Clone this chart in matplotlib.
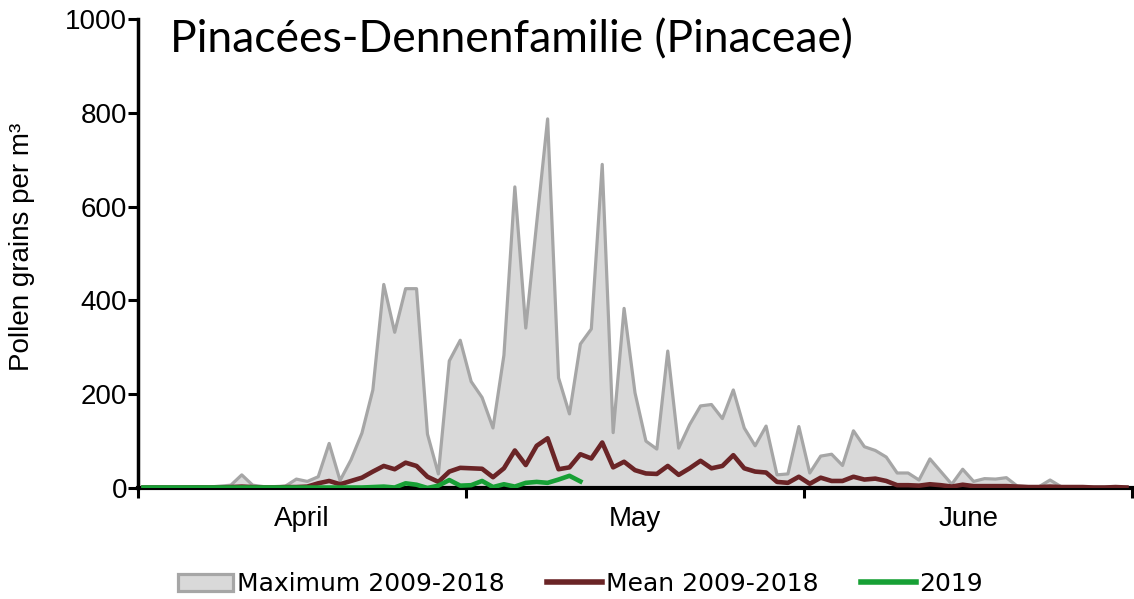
import numpy as np
import matplotlib
matplotlib.use("Agg")
import matplotlib.pyplot as plt
from matplotlib.patches import Patch
from matplotlib.lines import Line2D

# daily values, 1 April .. 30 June
max_2009_2018 = [1, 2, 1, 1, 2, 3, 2, 4, 6, 28,
                 6, 3, 3, 4, 19, 14, 24, 95, 16, 60,
                 117, 209, 434, 332, 425, 425, 115, 30, 271, 315,
                 227, 193, 128, 283, 642, 341, 565, 787, 235, 158,
                 307, 339, 690, 118, 383, 203, 100, 83, 292, 85,
                 135, 175, 178, 148, 209, 128, 90, 132, 28, 30,
                 131, 32, 68, 72, 48, 122, 88, 80, 66, 32,
                 32, 17, 62, 35, 8, 40, 14, 20, 19, 22,
                 4, 3, 3, 17, 3, 2, 2, 2, 2, 2, 2]
mean_2009_2018 = [1, 1, 1, 1, 1, 1, 1, 1, 2, 3,
                  2, 1, 1, 2, 2, 3, 10, 15, 8, 15,
                  22, 35, 47, 40, 54, 47, 24, 13, 35, 43,
                  42, 41, 23, 42, 80, 49, 90, 106, 40, 44,
                  72, 63, 97, 44, 56, 38, 31, 30, 47, 28,
                  42, 58, 42, 47, 70, 42, 35, 33, 13, 11,
                  24, 9, 22, 15, 15, 24, 18, 20, 15, 6,
                  6, 5, 8, 6, 3, 7, 4, 4, 4, 4,
                  3, 2, 2, 3, 2, 2, 2, 1, 1, 2, 1]
year_2019 = [1, 1, 1, 1, 1, 1, 1, 1, 1, 1,
             1, 1, 1, 1, 1, 1, 1, 1, 1, 1,
             1, 2, 3, 1, 10, 7, 0, 5, 17, 5,
             6, 15, 2, 8, 3, 11, 13, 11, 18, 26, 14]

months = ["April", "May", "June"]
month_days = [30, 31, 30]

fill_col = "#d9d9d9"
edge_col = "#a6a6a6"
mean_col = "#6a2426"
green_col = "#17a035"

plt.rcParams['font.family'] = ['Liberation Sans', 'DejaVu Sans']

fig = plt.figure(figsize=(11.34, 5.99), dpi=100)
ax = fig.add_axes([138/1134, 111/599, 994/1134, 469/599])

x_max = np.arange(len(max_2009_2018)) + 0.5
x_mean = np.arange(len(mean_2009_2018)) + 0.5
x_2019 = np.arange(len(year_2019)) + 0.5

ax.fill_between(x_max, 0, max_2009_2018, color=fill_col, lw=0, zorder=1)
ax.plot(x_max, max_2009_2018, color=edge_col, lw=2.3, zorder=2)
ax.plot(x_mean, mean_2009_2018, color=mean_col, lw=3.3, zorder=3)
ax.plot(x_2019, year_2019, color=green_col, lw=3.3, zorder=4)

bounds = np.concatenate([[0], np.cumsum(month_days)])
centers = (bounds[:-1] + bounds[1:]) / 2
ax.set_xlim(0, bounds[-1])
ax.set_ylim(0, 1000)
ax.set_xticks(bounds)
ax.set_xticklabels([])
ax.set_xticks(centers, minor=True)
ax.set_xticklabels(months, minor=True, fontsize=20)
ax.tick_params(axis='x', which='minor', length=0, pad=13)
ax.tick_params(axis='x', which='major', length=7, width=2.2, direction='out')
ax.set_yticks(np.arange(0, 1001, 200))
ax.tick_params(axis='y', length=7, width=2.2, labelsize=20, pad=1)

for s in ['top', 'right']:
    ax.spines[s].set_visible(False)
ax.spines['left'].set_linewidth(2.5)
ax.spines['bottom'].set_linewidth(3)

ax.set_ylabel("Pollen grains per m³", fontsize=20)
ax.yaxis.set_label_coords(-0.104, 0.515)

fig.text(170/1134, 1 - 19/599, "Pinacées-Dennenfamilie (Pinaceae)",
         fontsize=32, family='Lato', va='top', ha='left')

handles = [Patch(facecolor=fill_col, edgecolor=edge_col, lw=2.3),
           Line2D([], [], color=mean_col, lw=4),
           Line2D([], [], color=green_col, lw=4)]
labels = ["Maximum 2009-2018", "Mean 2009-2018", "2019"]
fig.legend(handles, labels, loc='center', bbox_to_anchor=(0.512, 1 - 584/599),
           ncol=3, frameon=False, handlelength=2.2, handletextpad=0.15,
           columnspacing=1.7, prop={'family': 'Liberation Sans Narrow', 'size': 18})

fig.savefig("out.png", dpi=100)
